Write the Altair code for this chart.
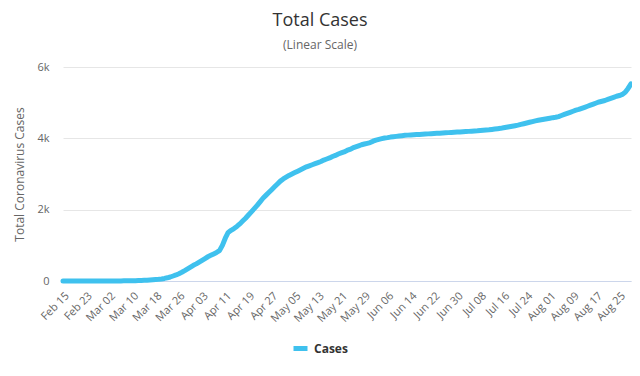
import altair as alt
import pandas as pd

# ---- data ----
start_date = "2020-02-15"
end_date = "2020-08-29"

feb = [0] * 15  # Feb 15 - Feb 29
mar = [1, 1, 1, 2, 2, 3, 4, 5, 6, 8,
       10, 12, 15, 18, 22, 27, 33, 40, 48, 58,
       72, 90, 112, 140, 170, 205, 245, 290, 340, 390, 440]
apr = [480, 530, 580, 630, 680, 720, 760, 800, 850, 1000,
       1200, 1360, 1420, 1470, 1530, 1600, 1680, 1760, 1850, 1940,
       2030, 2120, 2220, 2320, 2400, 2480, 2560, 2640, 2720, 2800]
may = [2860, 2910, 2960, 3000, 3040, 3080, 3120, 3160, 3200, 3230,
       3260, 3290, 3320, 3350, 3390, 3420, 3450, 3490, 3520, 3560,
       3590, 3620, 3660, 3690, 3730, 3760, 3790, 3820, 3840, 3860, 3880]
jun = [3920, 3950, 3970, 3990, 4010, 4020, 4035, 4045, 4055, 4065,
       4075, 4085, 4090, 4095, 4100, 4105, 4110, 4115, 4120, 4125,
       4130, 4135, 4140, 4145, 4150, 4155, 4160, 4165, 4170, 4175]
jul = [4180, 4185, 4190, 4195, 4200, 4205, 4210, 4218, 4225, 4232,
       4240, 4250, 4260, 4270, 4280, 4295, 4310, 4325, 4340, 4355,
       4370, 4390, 4410, 4430, 4450, 4470, 4490, 4505, 4520, 4535, 4550]
aug = [4565, 4580, 4590, 4610, 4640, 4670, 4700, 4730, 4760, 4790,
       4810, 4840, 4870, 4900, 4930, 4960, 4990, 5020, 5040, 5060,
       5090, 5120, 5150, 5180, 5200, 5230, 5290, 5400, 5530]

series_name = "Cases"
y_ticks = [0, 2000, 4000, 6000]

values = feb + mar + apr + may + jun + jul + aug
dates = pd.date_range(start_date, end_date, freq="D")
df = pd.DataFrame({
    "date": dates.strftime("%Y-%m-%d"),
    "cases": values,
    "series": series_name,
})

tick_dates = pd.date_range(start_date, end_date, freq="8D")
tick_ms = [int(t.value // 1_000_000) for t in tick_dates]

FONT = "Open Sans"
LINE_COLOR = "#3FC1EE"

chart = alt.Chart(df).mark_line(
    strokeWidth=5, strokeCap="round", strokeJoin="round"
).encode(
    x=alt.X(
        "date:T",
        scale=alt.Scale(type="utc", nice=False, padding=0),
        axis=alt.Axis(
            values=tick_ms, format="%b %d", formatType="time",
            labelAngle=-45, labelAlign="right", labelBaseline="middle",
            labelPadding=13, labelOffset=4, labelFontSize=11,
            labelColor="#666666", labelFont=FONT, grid=False, ticks=False,
            domainColor="#ccd6eb", title=None, labelOverlap=False,
            labelFlush=False,
        ),
    ),
    y=alt.Y(
        "cases:Q",
        scale=alt.Scale(domain=[0, 6000], nice=False),
        axis=alt.Axis(
            values=y_ticks,
            labelExpr="datum.value == 0 ? '0' : format(datum.value / 1000, 'd') + 'k'",
            labelFontSize=11,
            labelColor="#666666", labelFont=FONT, labelPadding=14,
            ticks=False, domain=False, gridColor="#e6e6e6",
            title="Total Coronavirus Cases", titleFont=FONT,
            titleFontSize=12, titleFontWeight="normal",
            titleColor="#666666", titlePadding=10,
        ),
    ),
    color=alt.Color(
        "series:N",
        scale=alt.Scale(range=[LINE_COLOR]),
        legend=alt.Legend(
            title=None, orient="none", legendX=228, legendY=272,
            symbolType="stroke", symbolStrokeWidth=5, symbolSize=196,
            labelFont=FONT, labelFontSize=12, labelFontWeight="bold",
            labelColor="#333333", labelOffset=4,
        ),
    ),
).properties(
    width=568,
    height=214,
    title=alt.TitleParams(
        text="Total Cases",
        subtitle="(Linear Scale)",
        anchor="middle", dx=-27, offset=10,
        font=FONT, fontSize=18, fontWeight="normal", color="#333333",
        subtitleFont=FONT, subtitleFontSize=12, subtitleColor="#666666",
        subtitlePadding=10,
    ),
    autosize=alt.AutoSizeParams(type="none"),
    padding={"left": 55, "top": 59, "right": 1, "bottom": 87},
).configure_view(stroke=None)

chart.save("out.html", embed_options={"renderer": "svg", "actions": False})
